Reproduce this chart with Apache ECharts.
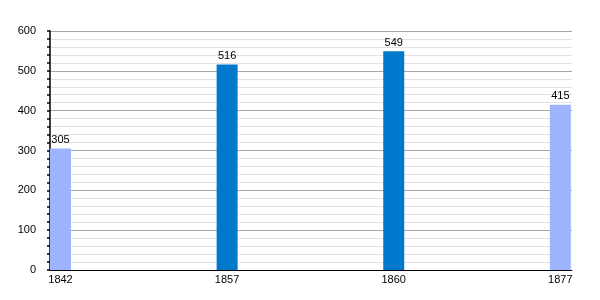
<!DOCTYPE html>
<html>
<head>
<meta charset="utf-8">
<script src="https://cdn.jsdelivr.net/npm/echarts@6/dist/echarts.min.js"></script>
<style>html,body{margin:0;padding:0;background:#fff}#c{width:600px;height:300px}</style>
</head>
<body>
<div id="c"></div>
<script>
var years = ['1842', '1857', '1860', '1877'];
var values = [305, 516, 549, 415];
var barColors = ['#9eb4ff', '#0079cc', '#0079cc', '#9eb4ff'];
var yTicks = [0, 100, 200, 300, 400, 500, 600];

var chart = echarts.init(document.getElementById('c'), null, {renderer: 'canvas'});
var font = 'Liberation Sans, Arial, sans-serif';
chart.setOption({
  animation: false,
  grid: {left: 50, right: 28, top: 31, bottom: 30},
  xAxis: {
    type: 'value',
    min: -0.063,
    max: 3.07,
    splitLine: {show: false},
    axisLine: {show: true, onZero: false, lineStyle: {color: '#000', width: 1}},
    axisTick: {show: false},
    axisLabel: {
      customValues: [0, 1, 2, 3],
      formatter: function (v) { return years[Math.round(v)]; },
      color: '#000', fontFamily: font, fontSize: 11, margin: 4
    }
  },
  yAxis: {
    type: 'value',
    min: yTicks[0],
    max: yTicks[yTicks.length - 1],
    interval: 100,
    axisLine: {show: true, onZero: false, lineStyle: {color: '#000', width: 1.5}},
    axisTick: {show: true, length: 3, lineStyle: {color: '#000', width: 1.5}},
    minorTick: {show: true, splitNumber: 5, length: 3, lineStyle: {color: '#000', width: 1.5}},
    splitLine: {show: true, lineStyle: {color: '#a8a8a8', width: 1}},
    minorSplitLine: {show: true, lineStyle: {color: '#e2e2e2', width: 1}},
    axisLabel: {color: '#000', fontFamily: font, fontSize: 11, margin: 14}
  },
  series: [{
    type: 'bar',
    barWidth: 21,
    data: values.map(function (v, i) {
      return {value: [i, v], itemStyle: {color: barColors[i]}};
    }),
    label: {
      show: true, position: 'top', distance: 3,
      color: '#000', fontFamily: font, fontSize: 11,
      formatter: function (p) { return p.value[1]; }
    }
  }]
});
</script>
</body>
</html>
